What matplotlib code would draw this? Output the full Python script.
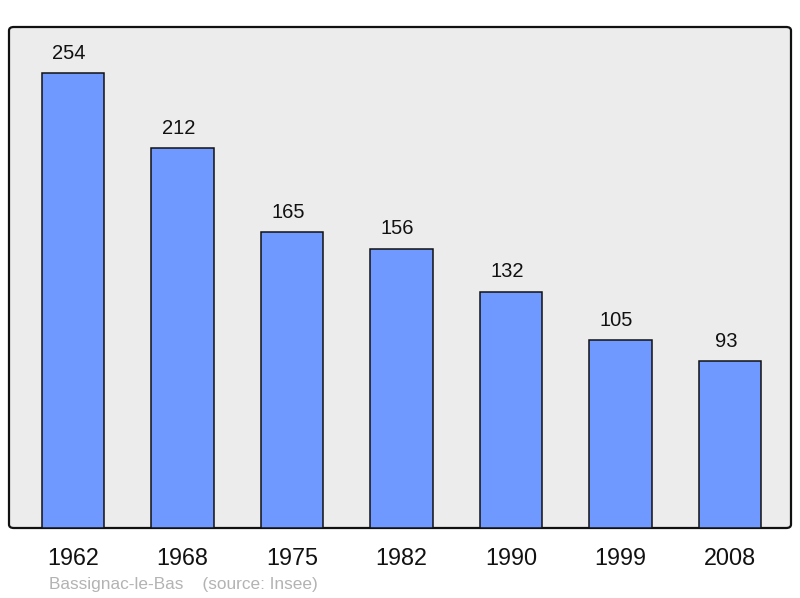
import matplotlib
matplotlib.use("Agg")
import matplotlib.pyplot as plt
from matplotlib.patches import FancyBboxPatch

years = ["1962", "1968", "1975", "1982", "1990", "1999", "2008"]
population = [254, 212, 165, 156, 132, 105, 93]
source_text = "Bassignac-le-Bas    (source: Insee)"

plt.rcParams['font.family'] = ['Liberation Sans', 'DejaVu Sans']

W, H = 800, 598
fig = plt.figure(figsize=(W / 100, H / 100), dpi=100)
fig.patch.set_facecolor("white")

left, right, top, bottom = 9, 791, 27, 528
ax = fig.add_axes([left / W, (H - bottom) / H, (right - left) / W, (bottom - top) / H])
ax.set_facecolor("none")
ax.set_zorder(1)

# rounded frame
frame = FancyBboxPatch((left / W, (H - bottom) / H), (right - left) / W, (bottom - top) / H,
                       boxstyle="round,pad=0,rounding_size=0.006",
                       transform=fig.transFigure, facecolor="#ececec",
                       edgecolor="#111111", linewidth=1.6, zorder=-1)
fig.patches.append(frame)

x = list(range(len(years)))
ax.bar(x, population, width=0.568, color="#7099ff", edgecolor="#111111",
       linewidth=1.1, zorder=2)
for xi, v in zip(x, population):
    ax.annotate(str(v), (xi, v), xytext=(-3, 7.5), textcoords="offset points",
                ha="center", va="bottom", fontsize=14.5, color="#111111")

ax.set_xlim(-0.584, 6.557)
ax.set_ylim(0, 279.7)
for s in ax.spines.values():
    s.set_visible(False)
ax.set_yticks([])
ax.set_xticks(x)
ax.set_xticklabels(years, fontsize=16.8)
ax.tick_params(axis="x", length=0, pad=14, colors="#111111")

fig.text(49 / W, 1 - 584 / H, source_text, fontsize=12.4, color="#b3b3b3",
         ha="left", va="center")

fig.savefig("out.png", dpi=100)
